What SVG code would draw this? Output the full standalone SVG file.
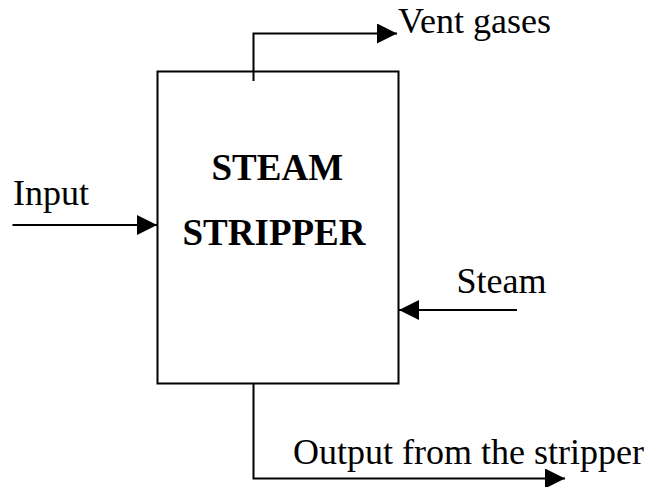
<svg xmlns="http://www.w3.org/2000/svg" width="655" height="487" viewBox="0 0 655 487">
<style>
.ln{fill:none;stroke:#000;stroke-width:2}
.t{font-family:"Liberation Serif","Times New Roman",serif;font-size:36px;fill:#000}
.b{font-family:"Liberation Serif","Times New Roman",serif;font-size:37px;font-weight:bold;fill:#000}
</style>
<defs>
<marker id="ah" markerWidth="20" markerHeight="20" viewBox="0 0 20 20" refX="20" refY="10" orient="auto" markerUnits="userSpaceOnUse">
<path d="M0,0 L20,10 L0,20 Z" fill="#000"/>
</marker>
</defs>
<rect width="655" height="487" fill="#fff"/>
<g id="stripper">
<rect x="157.5" y="71.5" width="241" height="312" class="ln"/>
<text class="b" x="211.5" y="180">STEAM</text>
<text class="b" x="182.5" y="245">STRIPPER</text>
</g>
<g id="connectors">
<polyline class="ln" points="253.5,81 253.5,33.5 397,33.5" marker-end="url(#ah)"/>
<line class="ln" x1="12.5" y1="225" x2="157" y2="225" marker-end="url(#ah)"/>
<line class="ln" x1="517" y1="310" x2="399" y2="310" marker-end="url(#ah)"/>
<polyline class="ln" points="253.5,383 253.5,478.5 565,478.5" marker-end="url(#ah)"/>
</g>
<g id="labels">
<text class="t" x="398" y="33">Vent gases</text>
<text class="t" x="13" y="205">Input</text>
<text class="t" x="456.5" y="293">Steam</text>
<text class="t" x="293" y="464">Output from the stripper</text>
</g>
</svg>
